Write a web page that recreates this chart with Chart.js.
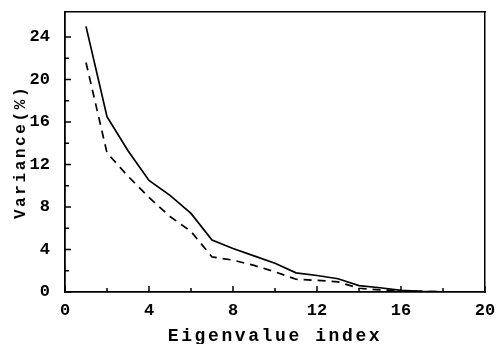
<!DOCTYPE html>
<html><head><meta charset="utf-8">
<script src="https://cdn.jsdelivr.net/npm/chart.js@4/dist/chart.umd.min.js"></script>
<style>html,body{margin:0;padding:0;background:#fff}#wrap{width:503px;height:344px}</style>
</head><body><div id="wrap"><canvas id="c" width="503" height="344"></canvas></div>
<script>
const eigenIndex = [1,2,3,4,5,6,7,8,9,10,11,12,13,14,15,16,17,18,19];
const solidVariance = [25.0,16.5,13.3,10.5,9.1,7.4,4.9,4.1,3.4,2.7,1.8,1.55,1.25,0.6,0.4,0.15,0.05,0.02,0];
const dashedVariance = [21.6,13.1,10.9,8.9,7.1,5.7,3.3,3.0,2.5,1.9,1.2,1.1,0.95,0.35,0.2,0.1,0.05,0.02,0];
const xTickLabels = [0,4,8,12,16,20];
const yTickLabels = [0,4,8,12,16,20,24];

const FONT = "'Liberation Mono', 'DejaVu Sans Mono', monospace";

const inwardTicks = {
  id: 'inwardTicks',
  beforeDraw(chart) { chart.ctx.letterSpacing = '2.6px'; },
  beforeDatasetsDraw(chart) { chart.ctx.letterSpacing = '0px'; },
  afterDatasetsDraw(chart) {
    const ctx = chart.ctx, a = chart.chartArea;
    const xs = chart.scales.x, ys = chart.scales.y;
    ctx.save();
    ctx.strokeStyle = '#000';
    ctx.lineWidth = 1.5;
    ctx.beginPath();
    xs.ticks.forEach(t => {
      const p = xs.getPixelForValue(t.value);
      const len = xTickLabels.includes(t.value) ? 6 : 4;
      ctx.moveTo(p, a.bottom); ctx.lineTo(p, a.bottom - len);
    });
    ys.ticks.forEach(t => {
      if (t.value > 24) return;
      const p = ys.getPixelForValue(t.value);
      const len = yTickLabels.includes(t.value) ? 6 : 4;
      ctx.moveTo(a.left, p); ctx.lineTo(a.left + len, p);
    });
    ctx.stroke();
    ctx.restore();
  }
};

function noPad(s){ s.paddingTop = 0; s.paddingBottom = 0; s.paddingLeft = 0; s.paddingRight = 0; }

new Chart(document.getElementById('c'), {
  type: 'line',
  data: {
    datasets: [
      { data: eigenIndex.map((x,i)=>({x, y: solidVariance[i]})), borderColor:'#000', borderWidth:1.7, pointRadius:0, tension:0 },
      { data: eigenIndex.map((x,i)=>({x, y: dashedVariance[i]})), borderColor:'#000', borderWidth:1.7, borderDash:[8,6], pointRadius:0, tension:0 }
    ]
  },
  options: {
    responsive:false, animation:false,
    layout:{padding:{left:0,top:12,right:18,bottom:0}},
    plugins:{legend:{display:false}, tooltip:{enabled:false}},
    scales:{
      x:{type:'linear', min:0, max:20, position:'bottom',
         ticks:{z:1, stepSize:2, autoSkip:false, maxRotation:0, color:'#000', padding:1,
           font:{family:FONT, size:17, weight:'bold'},
           callback:v=> xTickLabels.includes(v) ? String(v) : ''},
         grid:{display:false}, border:{display:true, color:'#000', width:1.8},
         title:{display:true, text:'Eigenvalue index', color:'#000', padding:{top:0,bottom:-3},
           font:{family:FONT, size:18, weight:'bold'}},
         afterFit(s){ s.height = 52; noPad(s); }},
      y:{type:'linear', min:0, max:26.35, position:'left',
         ticks:{z:1, stepSize:2, autoSkip:false, color:'#000', padding:7,
           font:{family:FONT, size:17, weight:'bold'},
           callback:v=> yTickLabels.includes(v) ? String(v) : ''},
         grid:{display:false}, border:{display:true, color:'#000', width:1.8},
         title:{display:true, text:'Variance(%)', color:'#000', padding:{top:11,bottom:0},
           font:{family:FONT, size:16, weight:'bold'}},
         afterFit(s){ s.width = 65; noPad(s); }},
      x2:{type:'linear', min:0, max:20, position:'top', ticks:{display:false}, grid:{display:false},
          border:{display:true, color:'#000', width:1.5}, afterFit(s){ s.height = 0; noPad(s); }},
      y2:{type:'linear', min:0, max:26.35, position:'right', ticks:{display:false}, grid:{display:false},
          border:{display:true, color:'#000', width:1.5}, afterFit(s){ s.width = 0; noPad(s); }}
    }
  },
  plugins:[inwardTicks]
});
</script></body></html>
